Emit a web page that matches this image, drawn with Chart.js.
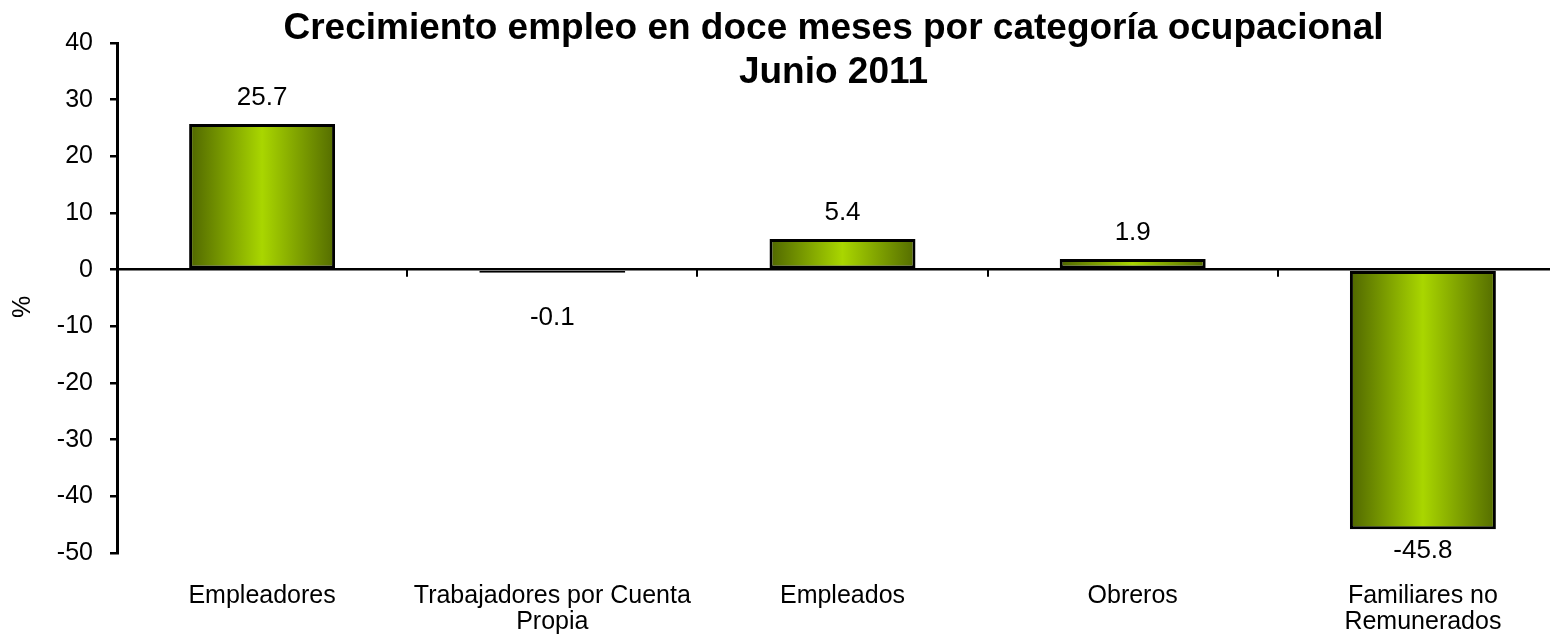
<!DOCTYPE html>
<html lang="es">
<head>
  <meta charset="UTF-8">
  <title>Crecimiento empleo</title>
  <script src="https://cdn.jsdelivr.net/npm/chart.js@4.4.1/dist/chart.umd.min.js"></script>
  <style>
    html, body { margin: 0; padding: 0; background: #fff; overflow: hidden; }
    #wrap { width: 1580px; height: 635px; }
  </style>
  <script>
// categorias y valores (%)
var categories = [
  'Empleadores',
  ['Trabajadores por Cuenta', 'Propia'],
  'Empleados',
  'Obreros',
  ['Familiares no', 'Remunerados']
];
var values = [25.7, -0.1, 5.4, 1.9, -45.8];
var titleLines = ['Crecimiento empleo en doce meses por categoría ocupacional', 'Junio 2011'];
var yTitle = '%';
var yMin = -50, yMax = 40, yStep = 10;
  </script>
</head>
<body>
<div id="wrap"><canvas id="chart"></canvas></div>
<script>
var FONT = "'Liberation Sans', Arial, sans-serif";
var catPct = 0.503;

function barGradient(c) {
  var chart = c.chart;
  if (!chart.chartArea) return '#a8d600';
  var xs = chart.scales.x;
  var cx = xs.getPixelForValue(c.dataIndex);
  var half = (xs.width / categories.length) * catPct / 2;
  var g = chart.ctx.createLinearGradient(cx - half, 0, cx + half, 0);
  g.addColorStop(0, '#4f6600');
  g.addColorStop(0.5, '#a9d600');
  g.addColorStop(1, '#546c00');
  return g;
}

// titulo, etiqueta del eje y, marcas del eje x y valores de las barras
var extras = {
  id: 'extras',
  afterDatasetsDraw: function(chart) {
    var ctx = chart.ctx;
    var area = chart.chartArea;
    var xs = chart.scales.x, ys = chart.scales.y;
    var zero = ys.getPixelForValue(0);

    // marcas entre categorias sobre la linea cero
    ctx.save();
    ctx.strokeStyle = '#000';
    ctx.lineWidth = 2;
    var step = xs.width / categories.length;
    for (var i = 1; i < categories.length; i++) {
      var tx = Math.round(area.left + step * i);
      ctx.beginPath();
      ctx.moveTo(tx, zero);
      ctx.lineTo(tx, zero + 7);
      ctx.stroke();
    }
    ctx.restore();

    // etiquetas de datos
    ctx.save();
    ctx.font = '26px ' + FONT;
    ctx.fillStyle = '#000';
    ctx.textAlign = 'center';
    ctx.textBaseline = 'alphabetic';
    chart.getDatasetMeta(0).data.forEach(function(el, idx) {
      var v = values[idx];
      var y;
      if (v >= 0) y = el.y - 19;
      else y = Math.max(el.y + 29, el.base + 54);
      ctx.fillText(v.toFixed(1), el.x, y);
    });
    ctx.restore();

    // titulo
    ctx.save();
    ctx.font = 'bold 37px ' + FONT;
    ctx.fillStyle = '#000';
    ctx.textAlign = 'center';
    ctx.textBaseline = 'alphabetic';
    var visibleRight = Math.min(chart.width, window.innerWidth);
    var tcx = (area.left + visibleRight) / 2;
    ctx.fillText(titleLines[0], tcx, 39);
    ctx.fillText(titleLines[1], tcx, 83);
    ctx.restore();

    // titulo eje y
    ctx.save();
    ctx.font = '25px ' + FONT;
    ctx.fillStyle = '#000';
    ctx.textAlign = 'center';
    ctx.textBaseline = 'middle';
    ctx.translate(23, 307);
    ctx.rotate(-Math.PI / 2);
    ctx.fillText(yTitle, 0, 0);
    ctx.restore();
  }
};

window.onload = function() {
  var ctx = document.getElementById('chart').getContext('2d');
  window.myChart = new Chart(ctx, {
    type: 'bar',
    data: {
      labels: categories,
      datasets: [{
        data: values,
        backgroundColor: barGradient,
        borderColor: '#000',
        borderWidth: 3,
        borderSkipped: false,
        minBarLength: 3,
        barPercentage: 1,
        categoryPercentage: catPct
      }]
    },
    options: {
      responsive: true,
      maintainAspectRatio: false,
      animation: false,
      layout: { padding: { top: 43, right: 12, left: 0, bottom: 0 } },
      plugins: {
        legend: { display: false },
        title: { display: false },
        tooltip: { enabled: false }
      },
      scales: {
        x: {
          grid: { display: false, drawTicks: false },
          border: { display: false },
          ticks: {
            color: '#000',
            font: { family: FONT, size: 25, lineHeight: 1.04 },
            padding: 30,
            maxRotation: 0,
            minRotation: 0,
            autoSkip: false
          },
          afterFit: function(s) { s.height = 82; }
        },
        y: {
          min: yMin,
          max: yMax,
          ticks: {
            stepSize: yStep,
            color: '#000',
            font: { family: FONT, size: 25 },
            padding: 17
          },
          grid: {
            color: function(c) { return c.tick && c.tick.value === 0 ? '#000' : 'rgba(0,0,0,0)'; },
            lineWidth: 2.5,
            tickColor: '#000',
            tickLength: 7,
            tickWidth: 2.5
          },
          border: { display: true, color: '#000', width: 3 },
          afterFit: function(s) { s.width = 117; }
        }
      }
    },
    plugins: [extras]
  });
};
</script>
</body>
</html>
